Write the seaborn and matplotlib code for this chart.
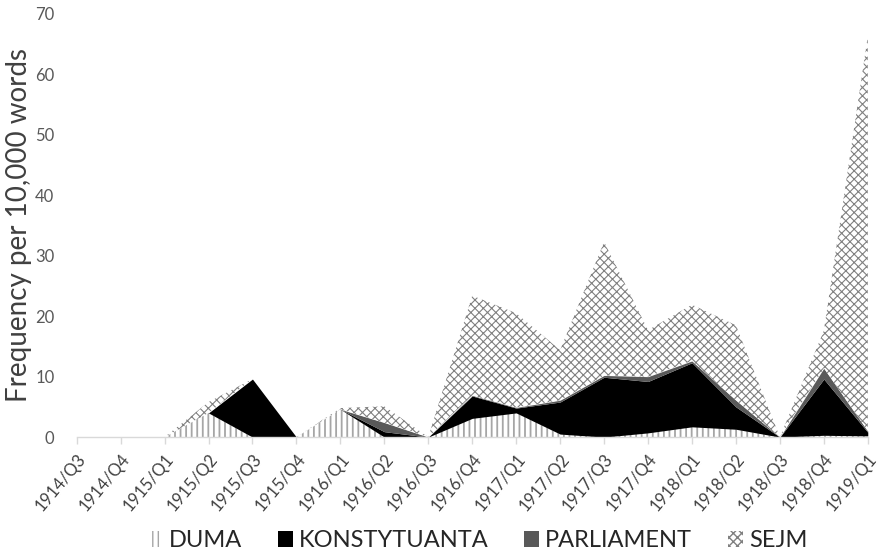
import matplotlib
matplotlib.use("Agg")
import matplotlib.pyplot as plt
import matplotlib as mpl
from matplotlib.patches import Patch
import numpy as np
import seaborn as sns

quarters = ['1914/Q3', '1914/Q4', '1915/Q1', '1915/Q2', '1915/Q3', '1915/Q4',
            '1916/Q1', '1916/Q2', '1916/Q3', '1916/Q4', '1917/Q1', '1917/Q2',
            '1917/Q3', '1917/Q4', '1918/Q1', '1918/Q2', '1918/Q3', '1918/Q4',
            '1919/Q1']
duma = [0, 0, 0, 4.0, 0, 0, 4.6, 0, 0, 3.1, 4.0, 0.5, 0, 0.7, 1.7, 1.3, 0, 0.3, 0.2]
konstytuanta = [0, 0, 0, 0, 9.6, 0, 0, 0.9, 0, 3.7, 0.8, 5.3, 9.9, 8.5, 10.6, 3.7, 0, 9.3, 0.6]
parliament = [0, 0, 0, 0, 0, 0, 0, 1.5, 0, 0.1, 0.1, 0.3, 0.3, 0.8, 0.3, 1.1, 0, 1.8, 0.2]
sejm = [0, 0, 0, 1.8, 0, 0, 0.2, 2.7, 0, 16.5, 15.6, 8.3, 22.1, 7.7, 9.3, 12.4, 0, 6.2, 65.3]

names = ['DUMA', 'KONSTYTUANTA', 'PARLIAMENT', 'SEJM']
series = [duma, konstytuanta, parliament, sejm]
# face, hatch, hatch colour, hatch width
styles = [('white', '|||', '#a6a6a6', 1.3),
          ('black', None, 'black', 0.0),
          ('#595959', None, '#595959', 0.0),
          ('white', 'xxxx', '#808080', 0.8)]

sns.set_theme(style="white")
plt.rcParams['font.family'] = ['Lato', 'DejaVu Sans']

fig = plt.figure(figsize=(8.81, 5.54), dpi=100)
ax = fig.add_axes([0.087, 0.211, 0.898, 0.764])

x = np.arange(len(quarters))
base = np.zeros(len(quarters))
handles = []
for name, vals, (fc, hatch, hc, hw) in zip(names, series, styles):
    top = base + np.array(vals)
    with mpl.rc_context({'hatch.linewidth': hw, 'hatch.color': hc}):
        ax.fill_between(x, base, top, facecolor=fc, edgecolor=hc,
                        hatch=hatch, linewidth=0)
        handles.append(Patch(facecolor=fc, edgecolor=hc, hatch=hatch,
                             linewidth=0, label=name))
    base = top

ax.set_xlim(0, len(quarters) - 1)
ax.set_ylim(0, 70)
ax.set_yticks(range(0, 71, 10))
ax.set_xticks(x)
ax.set_xticklabels(quarters, rotation=50, ha='right', rotation_mode='anchor',
                   fontsize=12, color='#404040')
ax.tick_params(axis='y', labelsize=12, labelcolor='#595959', length=0, pad=16)
ax.tick_params(axis='x', length=5, width=1, color='#d9d9d9', direction='out',
               pad=5, bottom=True)
ax.set_ylabel('Frequency per 10,000 words', fontsize=20, color='#404040', labelpad=2)

sns.despine(ax=ax, left=True)
ax.spines['bottom'].set_color('#d9d9d9')
ax.spines['bottom'].set_linewidth(1)
ax.grid(False)

fig.legend(handles=handles, loc='center', bbox_to_anchor=(0.542, 0.024),
           ncol=4, frameon=False, fontsize=17, handlelength=0.65,
           handleheight=0.65, handletextpad=0.25, columnspacing=1.5,
           labelcolor='#262626', borderpad=0)

fig.savefig('out.png', dpi=100)
